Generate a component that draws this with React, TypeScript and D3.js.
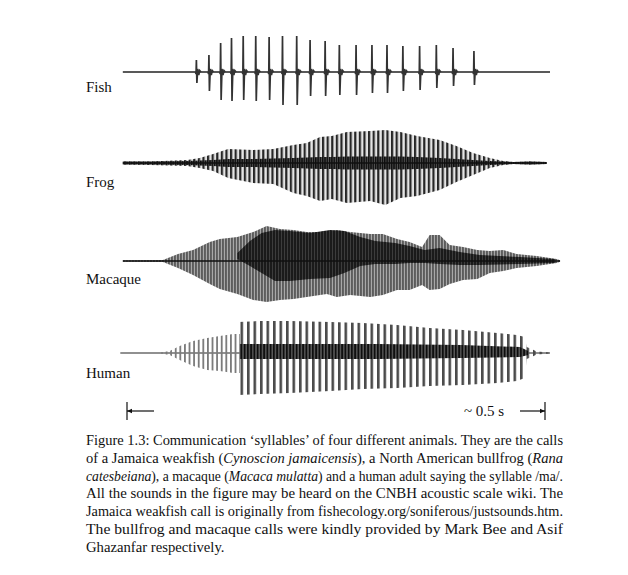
import React from "react";
import * as d3 from "d3";

const W = 628;
const H = 575;

// time axis in ms (scale bar = 0..500 ms), amplitude in relative units (±50 full scale)
const scaleBarMs = [0, 500];

// Fish: individual clicks
const fishSpan = [-5, 506];
const fishPulseT = [83, 98, 112, 125, 139, 154, 170, 186, 203, 219, 237, 254, 274, 293, 311, 330, 350, 370, 390, 415];
const fishPulseUp = [12, 17, 29, 34, 36, 36, 35, 36, 36, 32, 31, 27, 27, 27, 27, 26, 26, 27, 24, 21];
const fishPulseDown = [11, 19, 28, 29, 28, 29, 28, 33, 33, 24, 24, 23, 23, 21, 21, 19, 18, 16, 14, 13];

// Frog: envelope
const frogT = [-5, 28, 72, 87, 103, 121, 151, 175, 199, 215, 231, 245, 263, 291, 309, 327, 347, 374, 394, 414, 434, 450, 462, 482, 502];
const frogUp = [1.5, 1.5, 3, 5, 9, 14, 13, 14, 18, 20, 26, 27, 31, 32, 33, 31, 27, 23, 17, 10, 5, 2, 1, 1.5, 1];
const frogDown = [1.5, 2, 3, 5, 8, 15, 20, 21, 30, 33, 38, 36, 40, 38, 42, 35, 33, 27, 19, 12, 5, 2, 1, 1.5, 1];
const frogCore = [1.5, 1.5, 2, 2.5, 3, 4, 4, 4.5, 5, 5.5, 6, 6, 6.5, 6.5, 6.5, 6.5, 6, 5, 4, 3, 2, 1.5, 1, 1.5, 1];

// Macaque: outer (grey) envelope and dark inner region
const macT = [-5, 43, 61, 79, 99, 111, 132, 151, 167, 183, 199, 215, 239, 251, 267, 291, 306, 323, 338, 353, 362, 374, 386, 402, 419, 434, 450, 466, 490, 514, 518];
const macUp = [0.7, 1, 7, 11, 19, 22, 24, 29, 35, 32, 31, 29, 29, 31, 29, 27, 27, 22, 19, 14, 26, 26, 16, 14, 11, 10, 11, 7, 5, 2, 0.7];
const macDown = [0.7, 1, 7, 14, 23, 28, 33, 39, 41, 39, 38, 36, 33, 36, 34, 36, 34, 29, 29, 24, 29, 28, 23, 19, 18, 12, 10, 7, 5, 2, 0.7];
const macDarkT = [132, 147, 161, 177, 195, 219, 243, 260, 279, 297, 321, 338, 356, 374, 398, 422, 470, 512];
const macDarkTop = [8, 20, 28, 31, 30, 28, 31, 30, 24, 20, 18, 15, 11, 13, 9, 6, 4, 2];
const macDarkBottom = [2, -5, -12, -20, -20, -18, -17, -12, -5, -3, -3, -2, -2, -3, -4, -4, -3, -2];

// Human: onset, main voiced part, dark core
const humanSpan = [-8, 506];
const humanOnsetT = [40, 51, 63, 79, 96, 111, 127, 135];
const humanOnsetUp = [0.5, 2, 7, 12, 15, 17, 19, 19];
const humanOnsetDown = [0.5, 2, 7, 13, 17, 18, 20, 20];
const humanMainT = [133, 159, 195, 243, 282, 323, 362, 402, 443, 466, 476, 478, 484, 490, 506];
const humanMainUp = [31, 32, 32, 31, 30, 28, 25, 23, 20, 18, 16, 6, 4, 1.5, 0.5];
const humanMainDown = [42, 41, 40, 38, 36, 35, 33, 32, 30, 28, 25, 6, 4, 1.5, 0.5];
const humanCoreT = [135, 200, 300, 400, 470, 480];
const humanCoreUp = [9, 9, 9, 8, 6, 2];
const humanCoreDown = [6, 6, 6, 5, 4, 2];

const labels = ["Fish", "Frog", "Macaque", "Human"];

const captionLines: [string, boolean][][] = [
  [["Figure 1.3: Communication \u2018syllables\u2019 of four different animals. They are the calls", false]],
  [["of a Jamaica weakfish (", false], ["Cynoscion jamaicensis", true], ["), a North American bullfrog (", false], ["Rana", true]],
  [["catesbeiana", true], ["), a macaque (", false], ["Macaca mulatta", true], [") and a human adult saying the syllable /ma/.", false]],
  [["All the sounds in the figure may be heard on the CNBH acoustic scale wiki. The", false]],
  [["Jamaica weakfish call is originally from fishecology.org/soniferous/justsounds.htm.", false]],
  [["The bullfrog and macaque calls were kindly provided by Mark Bee and Asif", false]],
  [["Ghazanfar respectively.", false]],
];

const serif = "'Liberation Serif', 'DejaVu Serif', serif";

const x = d3.scaleLinear().domain(scaleBarMs).range([127, 545]);
const amp = d3.scaleLinear().domain([-50, 50]).range([50, -50]);

const envelope = (T: number[], up: number[], down: number[]) =>
  d3
    .area<number>()
    .x((_, i) => x(T[i]))
    .y0((_, i) => amp(-down[i]))
    .y1((_, i) => amp(up[i]))(T) || "";

const band = (T: number[], top: number[], bottom: number[]) =>
  d3
    .area<number>()
    .x((_, i) => x(T[i]))
    .y0((_, i) => amp(bottom[i]))
    .y1((_, i) => amp(top[i]))(T) || "";

const line = d3
  .line<[number, number]>()
  .x((d) => x(d[0]))
  .y((d) => amp(d[1]));

const fishPulsePath = (t: number, up: number, down: number) =>
  line([
    [t - 1.2, 0],
    [t - 0.4, -2],
    [t, up],
    [t + 0.6, -down],
    [t + 1.6, 3],
    [t + 2.8, -3],
    [t + 4, 1.5],
    [t + 5.5, 0],
  ]) || "";

const Stripes = ({ id, w, bar, color, bg }: { id: string; w: number; bar: number; color: string; bg?: string }) => (
  <pattern id={id} patternUnits="userSpaceOnUse" width={w} height={120} x={0} y={0}>
    {bg && <rect width={w} height={120} fill={bg} />}
    <rect x={0} width={bar} height={120} fill={color} />
  </pattern>
);

export default function App() {
  const baselines = [72, 163, 261, 353];
  const labelY = [92, 187, 284, 378];

  return (
    <svg width={W} height={H} style={{ position: "absolute", left: 0, top: 0, background: "#fff" }}>
      <defs>
        <Stripes id="frogStripes" w={4.6} bar={2.2} color="#262626" bg="#e4e4e4" />
        <Stripes id="frogCore" w={2.3} bar={1.4} color="#0e0e0e" bg="#505050" />
        <Stripes id="macGrey" w={3} bar={1.9} color="#5c5c5c" bg="#a8a8a8" />
        <Stripes id="macDark" w={3} bar={2} color="#1a1a1a" bg="#3c3c3c" />
        <Stripes id="humanMain" w={6.5} bar={2.6} color="#4a4a4a" />
        <Stripes id="humanOnset" w={4.6} bar={1.8} color="#7a7a7a" />
        <Stripes id="humanCore" w={3.25} bar={1.8} color="#0e0e0e" bg="#5a5a5a" />
      </defs>

      {/* Fish */}
      <g transform={`translate(0,${baselines[0]})`}>
        <line x1={x(fishSpan[0])} x2={x(fishSpan[1])} y1={0} y2={0} stroke="#222" strokeWidth={1.4} />
        {fishPulseT.map((t, i) => (
          <path key={i} d={fishPulsePath(t, fishPulseUp[i], fishPulseDown[i])} fill="none" stroke="#333" strokeWidth={1.7} />
        ))}
      </g>

      {/* Frog */}
      <g transform={`translate(0,${baselines[1]})`}>
        <path d={envelope(frogT, frogUp, frogDown)} fill="url(#frogStripes)" />
        <path d={envelope(frogT, frogCore, frogCore)} fill="url(#frogCore)" />
        <line x1={x(frogT[0])} x2={x(frogT[frogT.length - 1])} y1={0} y2={0} stroke="#111" strokeWidth={1.6} />
      </g>

      {/* Macaque */}
      <g transform={`translate(0,${baselines[2]})`}>
        <path d={envelope(macT, macUp, macDown)} fill="url(#macGrey)" />
        <path d={band(macDarkT, macDarkTop, macDarkBottom)} fill="url(#macDark)" />
        <line x1={x(macT[0])} x2={x(macT[macT.length - 1])} y1={0} y2={0} stroke="#111" strokeWidth={1.4} />
      </g>

      {/* Human */}
      <g transform={`translate(0,${baselines[3]})`}>
        <line x1={x(humanSpan[0])} x2={x(humanSpan[1])} y1={0} y2={0} stroke="#222" strokeWidth={1.2} />
        <path d={envelope(humanOnsetT, humanOnsetUp, humanOnsetDown)} fill="url(#humanOnset)" />
        <path d={envelope(humanMainT, humanMainUp, humanMainDown)} fill="url(#humanMain)" />
        <path d={envelope(humanCoreT, humanCoreUp, humanCoreDown)} fill="url(#humanCore)" />
      </g>

      {/* Labels */}
      {labels.map((l, i) => (
        <text key={l} x={86} y={labelY[i]} fontFamily={serif} fontSize={15} fill="#111">
          {l}
        </text>
      ))}

      {/* Scale bar */}
      <g stroke="#111" strokeWidth={1.2} fill="none">
        <line x1={x(scaleBarMs[0])} x2={x(scaleBarMs[0])} y1={402} y2={420} />
        <line x1={x(scaleBarMs[0])} x2={x(scaleBarMs[0]) + 27} y1={411} y2={411} />
        <line x1={x(scaleBarMs[1])} x2={x(scaleBarMs[1])} y1={402} y2={420} />
        <line x1={x(scaleBarMs[1]) - 25} x2={x(scaleBarMs[1])} y1={411} y2={411} />
      </g>
      <path
        d={`M${x(scaleBarMs[0])},411 l5,-2.2 v4.4 z M${x(scaleBarMs[1])},411 l-5,-2.2 v4.4 z`}
        fill="#111"
      />
      <text x={484} y={416} textAnchor="middle" fontFamily={serif} fontSize={15} fill="#111">
        ~ 0.5 s
      </text>

      {/* Caption */}
      {captionLines.map((segs, i) => {
        const justify = i < captionLines.length - 1;
        return (
          <text
            key={i}
            x={86}
            y={445 + i * 17.8}
            fontFamily={serif}
            fontSize={14.7}
            fill="#111"
            textLength={justify ? 477 : undefined}
            lengthAdjust={justify ? "spacingAndGlyphs" : undefined}
          >
            {segs.map(([s, it], j) => (
              <tspan key={j} fontStyle={it ? "italic" : "normal"}>
                {s}
              </tspan>
            ))}
          </text>
        );
      })}
    </svg>
  );
}
